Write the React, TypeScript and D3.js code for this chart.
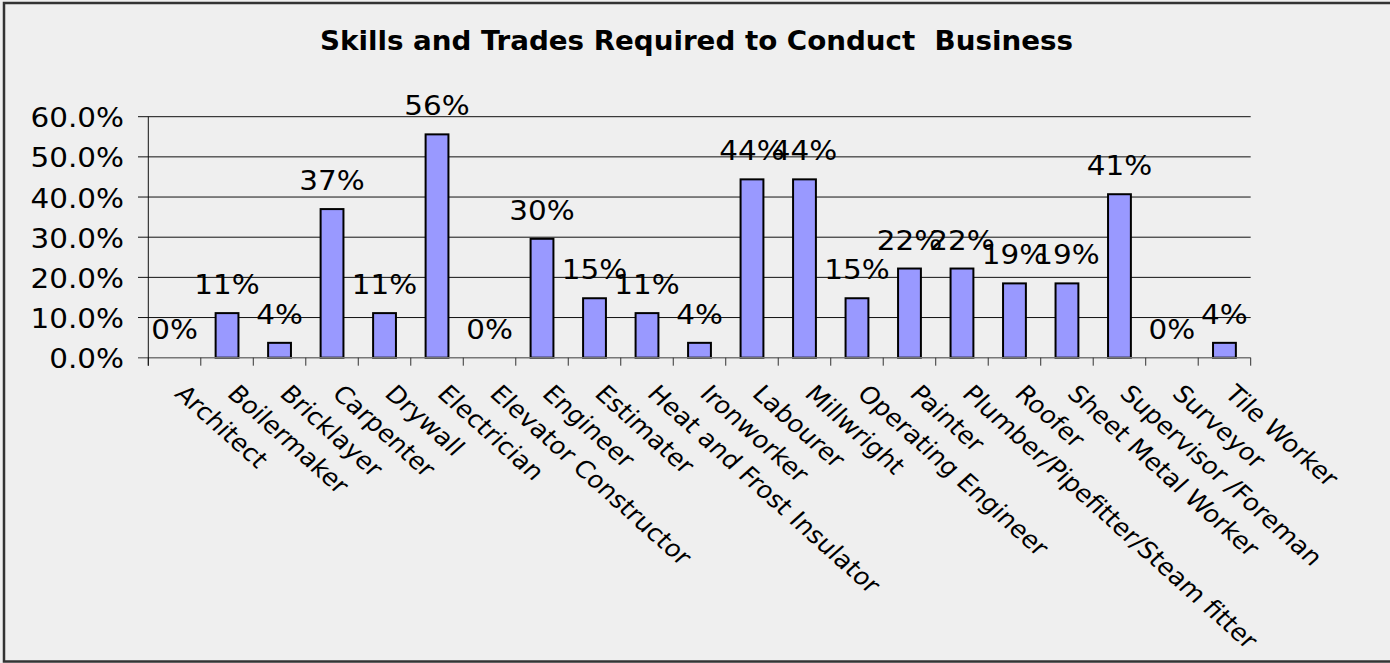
import * as d3 from "d3";

const categories = [
  "Architect",
  "Boilermaker",
  "Bricklayer",
  "Carpenter",
  "Drywall",
  "Electrician",
  "Elevator Constructor",
  "Engineer",
  "Estimater",
  "Heat and Frost Insulator",
  "Ironworker",
  "Labourer",
  "Millwright",
  "Operating Engineer",
  "Painter",
  "Plumber/Pipefitter/Steam fitter",
  "Roofer",
  "Sheet Metal Worker",
  "Supervisor /Foreman",
  "Surveyor",
  "Tile Worker",
];

const values = [
  0, 0.111, 0.037, 0.37, 0.111, 0.556, 0, 0.296, 0.148, 0.111, 0.037, 0.444,
  0.444, 0.148, 0.222, 0.222, 0.185, 0.185, 0.407, 0, 0.037,
];

const yTicks = [0, 0.1, 0.2, 0.3, 0.4, 0.5, 0.6];

const title = "Skills and Trades Required to Conduct  Business";

const W = 1390;
const H = 663;
const FONT = "Verdana, 'DejaVu Sans', sans-serif";
const SX = 1.09; // text in the picture is a bit wider than DejaVu

export default function App() {
  const left = 148.3;
  const right = 1250.7;
  const x = d3
    .scaleBand<string>()
    .domain(categories)
    .range([left, right])
    .paddingInner(0.565)
    .paddingOuter(0.2825);
  const y = d3.scaleLinear().domain([0, 0.6]).range([357.7, 116.7]);
  const step = x.step();
  const fmtTick = d3.format(".1%");
  const fmtLabel = d3.format(".0%");
  const y0 = y(0);

  // tick marks sit on category boundaries
  const bounds = d3.range(categories.length + 1).map((i) => left + i * step);

  return (
    <div style={{ position: "absolute", left: 0, top: 0 }}>
      <svg width={W} height={H} style={{ display: "block" }}>
        <rect x={0} y={0} width={W} height={H} fill="#efefef" />
        <rect
          x={4}
          y={3}
          width={W}
          height={H - 4.5}
          fill="none"
          stroke="#333"
          strokeWidth={2.5}
        />
        <text
          x={696.5}
          y={50}
          textAnchor="middle"
          fontFamily="'DejaVu Sans Condensed', 'DejaVu Sans', sans-serif"
          fontStretch="condensed"
          fontWeight="bold"
          fontSize={27}
          textLength={753}
          lengthAdjust="spacingAndGlyphs"
          style={{ whiteSpace: "pre" }}
        >
          {title}
        </text>

        {/* gridlines + y ticks */}
        {yTicks.map((t) => (
          <g key={t}>
            {t > 0 && (
              <line
                x1={138}
                x2={right}
                y1={y(t)}
                y2={y(t)}
                stroke="#111"
                strokeWidth={1}
              />
            )}
            <text
              transform={`translate(124,${y(t) + 10.5}) scale(${SX},1)`}
              textAnchor="end"
              fontFamily={FONT}
              fontSize={27}
            >
              {fmtTick(t)}
            </text>
          </g>
        ))}

        {/* bars */}
        {values.map((v, i) => (
          <rect
            key={categories[i]}
            x={x(categories[i])!}
            y={y(v)}
            width={x.bandwidth()}
            height={y0 - y(v)}
            fill="#9999ff"
            stroke="#000"
            strokeWidth={2}
            style={{ display: v > 0 ? undefined : "none" }}
          />
        ))}

        {/* axes */}
        <line x1={138} x2={right} y1={y0} y2={y0} stroke="#777" strokeWidth={1.5} />
        {bounds.map((b, i) => (
          <line
            key={i}
            x1={b}
            x2={b}
            y1={y0}
            y2={y0 + 8}
            stroke="#333"
            strokeWidth={1}
          />
        ))}
        <line x1={left} x2={left} y1={y(0.6)} y2={y0 + 8} stroke="#111" strokeWidth={1} />

        {/* data labels */}
        {values.map((v, i) => (
          <text
            key={categories[i]}
            transform={`translate(${x(categories[i])! + x.bandwidth() / 2},${y(v) - 19}) scale(${SX},1)`}
            textAnchor="middle"
            fontFamily={FONT}
            fontSize={27}
          >
            {fmtLabel(v)}
          </text>
        ))}

        {/* category labels */}
        {categories.map((c) => {
          const cx = x(c)! + x.bandwidth() / 2 - 1;
          return (
            <text
              key={c}
              transform={`translate(${cx},395) scale(1.12,1) rotate(45)`}
              fontFamily={FONT}
              fontSize={23.5}
            >
              {c}
            </text>
          );
        })}
      </svg>
    </div>
  );
}
